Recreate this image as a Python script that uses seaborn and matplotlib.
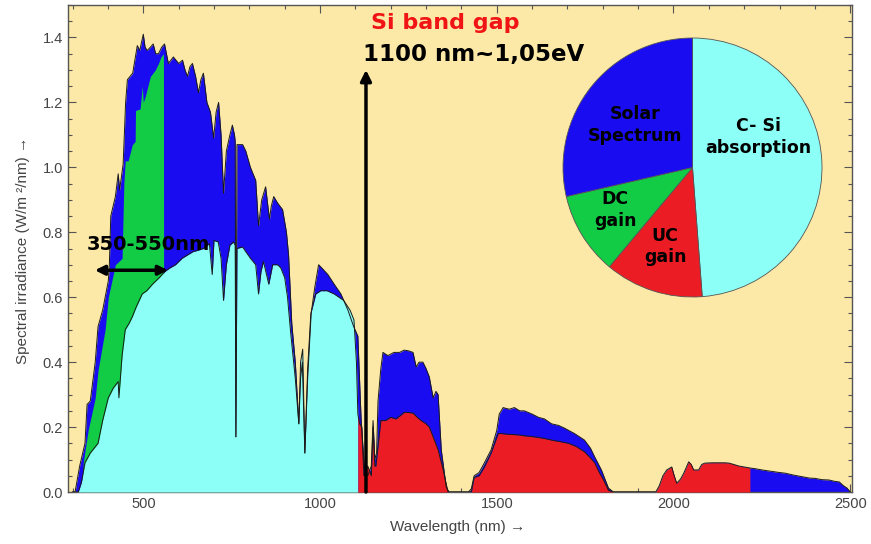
import numpy as np
import matplotlib
matplotlib.use("Agg")
import matplotlib.pyplot as plt
import seaborn as sns
from matplotlib.ticker import MultipleLocator

# ---------------- data ----------------
# upper (extraterrestrial-like) spectrum, blue area
upper_wl = [300, 307, 320, 335, 341, 350, 364, 372, 385, 401, 404, 408, 421, 429, 433,
            443, 450, 455, 470, 483, 490, 500, 505, 511, 520, 528, 535, 543, 552, 560,
            571, 585, 600, 611, 618, 625, 632, 639, 648, 656, 663, 670, 680, 690, 699,
            706, 713, 720, 727, 735, 745, 752, 758, 760, 762, 765, 781, 790, 803, 818,
            826, 835, 846, 857, 862, 869, 880, 894, 905, 911, 920, 930, 940, 945, 950,
            957, 965, 975, 985, 996, 1005, 1022, 1040, 1059, 1079, 1095, 1107, 1116,
            1125, 1135, 1145, 1150, 1155, 1160, 1164, 1172, 1178, 1192, 1209, 1225,
            1238, 1250, 1263, 1272, 1280, 1291, 1300, 1309, 1320, 1328, 1334, 1343,
            1357, 1365, 1420, 1428, 1436, 1450, 1465, 1484, 1500, 1507, 1518, 1535,
            1550, 1565, 1578, 1600, 1618, 1635, 1655, 1675, 1691, 1720, 1748, 1765,
            1777, 1796, 1816, 1830, 1950]
upper_val = [0.0, 0.0, 0.08, 0.15, 0.27, 0.28, 0.40, 0.51, 0.56, 0.65, 0.70, 0.85, 0.91, 0.98, 0.93,
             1.01, 1.20, 1.27, 1.29, 1.375, 1.36, 1.41, 1.37, 1.36, 1.37, 1.38, 1.35, 1.35, 1.37, 1.38,
             1.32, 1.34, 1.32, 1.33, 1.30, 1.28, 1.31, 1.32, 1.28, 1.23, 1.27, 1.29, 1.20, 1.17, 1.09,
             1.17, 1.20, 1.10, 0.92, 1.05, 1.10, 1.13, 1.10, 1.08, 0.17, 1.07, 1.07, 1.05, 1.00, 0.96,
             0.82, 0.90, 0.94, 0.84, 0.88, 0.91, 0.89, 0.87, 0.80, 0.73, 0.52, 0.40, 0.21, 0.35, 0.40,
             0.12, 0.35, 0.55, 0.63, 0.70, 0.69, 0.67, 0.64, 0.61, 0.56, 0.51, 0.48, 0.23,
             0.08, 0.05, 0.08, 0.22, 0.10, 0.12, 0.28, 0.38, 0.43, 0.42, 0.43, 0.43,
             0.437, 0.435, 0.43, 0.385, 0.40, 0.40, 0.38, 0.355, 0.29, 0.31, 0.30, 0.13,
             0.015, 0.0, 0.0, 0.01, 0.05, 0.06, 0.09, 0.13, 0.19, 0.24, 0.26, 0.255,
             0.26, 0.25, 0.25, 0.24, 0.23, 0.225, 0.21, 0.205, 0.197, 0.18, 0.16, 0.135,
             0.108, 0.068, 0.012, 0.0, 0.0]

# lower (ground-level) spectrum: cyan below 1107 nm, red up to 2216 nm, blue tail
lower_wl = [300, 316, 325, 335, 350, 372, 385, 401, 415, 429, 431, 440, 449, 460, 469,
            480, 497, 510, 526, 545, 562, 575, 591, 610, 625, 640, 656, 670, 687, 695,
            700, 712, 720, 727, 735, 745, 755, 760, 762, 765, 781, 790, 803, 818, 826,
            833, 840, 855, 866, 880, 889, 900, 908, 917, 930, 940, 945, 951, 957, 965,
            974, 988, 1002, 1020, 1040, 1067, 1085, 1096, 1103, 1107, 1112, 1118, 1124,
            1135, 1145, 1150, 1155, 1158, 1165, 1172, 1185, 1200, 1215, 1238, 1250, 1263,
            1275, 1286, 1300, 1309, 1320, 1334, 1348, 1362, 1428, 1436, 1450, 1465, 1484,
            1504, 1513, 1530, 1561, 1580, 1606, 1630, 1655, 1680, 1703, 1725, 1748, 1765,
            1777, 1790, 1802, 1816, 1830, 1950, 1960, 1970, 1981, 1995, 2002, 2009, 2020,
            2029, 2043, 2050, 2057, 2071, 2080, 2089, 2110, 2128, 2145, 2157, 2170, 2185,
            2200, 2216, 2230, 2250, 2280, 2300, 2316, 2340, 2365, 2384, 2400, 2420, 2440,
            2455, 2469, 2480, 2491, 2500]
lower_val = [0.0, 0.0, 0.03, 0.09, 0.12, 0.15, 0.22, 0.29, 0.32, 0.34, 0.29, 0.42, 0.50, 0.52, 0.54,
             0.57, 0.61, 0.62, 0.64, 0.66, 0.68, 0.69, 0.70, 0.72, 0.73, 0.74, 0.745, 0.75, 0.765, 0.67,
             0.775, 0.77, 0.72, 0.59, 0.70, 0.76, 0.77, 0.76, 0.17, 0.75, 0.755, 0.74, 0.72, 0.70, 0.61,
             0.68, 0.71, 0.64, 0.70, 0.70, 0.69, 0.66, 0.60, 0.49, 0.35, 0.21, 0.40, 0.44, 0.12, 0.38,
             0.55, 0.61, 0.62, 0.62, 0.61, 0.59, 0.56, 0.53, 0.40, 0.24, 0.21, 0.20, 0.05,
             0.08, 0.05, 0.20, 0.08, 0.08, 0.15, 0.22, 0.22, 0.23, 0.225, 0.245, 0.245, 0.243,
             0.23, 0.22, 0.21, 0.20, 0.17, 0.13, 0.07, 0.0, 0.0, 0.045, 0.05, 0.077, 0.12,
             0.18, 0.18, 0.178, 0.176, 0.173, 0.17, 0.166, 0.16, 0.155, 0.15, 0.14, 0.124, 0.105,
             0.09, 0.06, 0.037, 0.005, 0.0, 0.0, 0.02, 0.05, 0.068, 0.077, 0.05, 0.027, 0.04,
             0.058, 0.093, 0.085, 0.068, 0.068, 0.085, 0.089, 0.09, 0.09, 0.09, 0.089, 0.085, 0.08,
             0.077, 0.074, 0.072, 0.068, 0.063, 0.06, 0.058, 0.052, 0.047, 0.043, 0.042, 0.038, 0.037,
             0.033, 0.031, 0.02, 0.012, 0.0]

# down-conversion gain band (green) top edge
green_wl = [328, 330, 344, 364, 372, 392, 401, 421, 440, 445, 449, 457, 469, 477, 478,
            491, 497, 500, 506, 520, 534, 543, 550, 557, 558]
green_top = [0.0, 0.09, 0.19, 0.29, 0.375, 0.50, 0.60, 0.70, 0.72, 0.95, 1.02, 1.02, 1.07, 1.08, 1.175,
             1.18, 1.25, 1.20, 1.22, 1.28, 1.30, 1.32, 1.34, 1.35, 0.0]

pie_labels = ["C- Si\nabsorption", "UC\ngain", "DC\ngain", "Solar\nSpectrum"]
pie_shares = [48.8, 12.3, 10.3, 28.6]

x_ticks = [500, 1000, 1500, 2000, 2500]
y_ticks = [0.0, 0.2, 0.4, 0.6, 0.8, 1.0, 1.2, 1.4]

# ---------------- style ----------------
BLUE = '#1A0CF0'
GREEN = '#12CC46'
CYAN = '#8CFFF6'
RED = '#EC1C24'
BG = '#FCE9A7'

sns.set_theme(style='ticks')
plt.rcParams['font.family'] = ['DejaVu Sans']

fig = plt.figure(figsize=(8.71, 5.44), dpi=100)
fig.patch.set_facecolor('white')
ax = fig.add_axes([68 / 871, 52 / 544, 784 / 871, 487 / 544])
ax.set_facecolor(BG)

lw_arr = np.array(lower_wl)
lv_arr = np.array(lower_val)

ax.fill_between(upper_wl, 0, upper_val, color=BLUE, lw=0, zorder=1)
ax.fill_between(lw_arr, 0, lv_arr, where=lw_arr >= 1900, color=BLUE, lw=0, zorder=1)
ax.fill_between(green_wl, 0, green_top, color=GREEN, lw=0, zorder=2)
ax.fill_between(lw_arr, 0, lv_arr, where=lw_arr <= 1107, color=CYAN, lw=0, zorder=3)
ax.fill_between(lw_arr, 0, lv_arr, where=(lw_arr >= 1107) & (lw_arr <= 2216),
                color=RED, lw=0, zorder=3)

sns.lineplot(x=upper_wl, y=upper_val, color='#1a1a1a', lw=0.7, ax=ax,
             estimator=None, sort=False, zorder=4)
sns.lineplot(x=lower_wl, y=lower_val, color='#1a1a1a', lw=0.7, ax=ax,
             estimator=None, sort=False, zorder=4)

ax.set_xlim(287, 2505)
ax.set_ylim(0, 1.5)
ax.set_xticks(x_ticks)
ax.set_xticklabels([str(t) for t in x_ticks], fontfamily='Liberation Sans')
ax.set_yticks(y_ticks)
ax.set_yticklabels([f"{t:.1f}" for t in y_ticks], fontfamily='Liberation Sans')
ax.xaxis.set_minor_locator(MultipleLocator(100))
ax.yaxis.set_minor_locator(MultipleLocator(0.05))
ax.tick_params(which='both', direction='in', top=True, right=True,
               colors='#555555', labelcolor='#444444', labelsize=10.5, width=0.8)
ax.tick_params(which='major', length=6)
ax.tick_params(which='minor', length=3)
for s in ax.spines.values():
    s.set_color('#555555')
    s.set_linewidth(1.0)

ax.set_xlabel("Wavelength (nm) \u2192", fontfamily='Liberation Sans', fontsize=11, color='#444444')
ax.set_ylabel("Spectral irradiance (W/m \u00b2/nm) \u2192", fontfamily='Liberation Sans',
              fontsize=11, color='#444444')
ax.xaxis.set_label_coords(0.497, -0.057)
ax.yaxis.set_label_coords(-0.048, 0.497)

# annotations
ax.annotate("", xy=(363, 0.683), xytext=(570, 0.683),
            arrowprops=dict(arrowstyle='<|-|>', color='black', lw=2.5, mutation_scale=14,
                            shrinkA=0, shrinkB=0), zorder=6)
ax.text(341, 0.745, "350-550nm", ha='left', va='baseline', fontsize=14,
        fontweight='bold', color='black', zorder=6)

ax.annotate("", xy=(1130, 1.30), xytext=(1130, 0.0),
            arrowprops=dict(arrowstyle='-|>', color='black', lw=2.5, mutation_scale=16,
                            shrinkA=0, shrinkB=0), zorder=6)
ax.text(1144, 1.425, "Si band gap", ha='left', va='baseline', fontsize=16,
        fontweight='bold', color='#F01414', zorder=6)
ax.text(1121, 1.329, "1100 nm~1,05eV", ha='left', va='baseline', fontsize=16.5,
        fontweight='bold', color='black', zorder=6)

# pie inset
axp = fig.add_axes([563 / 871, 247 / 544, 259 / 871, 259 / 544])
axp.pie(pie_shares, colors=[CYAN, RED, GREEN, BLUE], startangle=90, counterclock=False,
        wedgeprops=dict(edgecolor='#555555', linewidth=0.6))
axp.set_xlim(-1.0, 1.0)
axp.set_ylim(-1.0, 1.0)
axp.set_aspect('equal')
axp.patch.set_alpha(0)
label_pos = [(0.506, 0.236), (-0.212, -0.610), (-0.598, -0.328), (-0.445, 0.328)]
for lab, (px, py) in zip(pie_labels, label_pos):
    axp.text(px, py, lab, ha='center', va='center', fontsize=12.5, fontweight='bold',
             color='black', linespacing=1.25)

fig.savefig("out.png", dpi=100, facecolor='white')
